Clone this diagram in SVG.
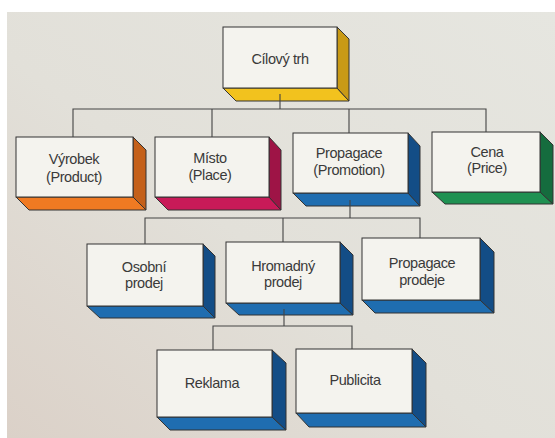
<svg xmlns="http://www.w3.org/2000/svg" width="555" height="438" viewBox="0 0 555 438">
<defs>
<linearGradient id="bg" x1="1" y1="0" x2="0" y2="1">
<stop offset="0" stop-color="#e6e6e0"/>
<stop offset="0.55" stop-color="#e2e0d9"/>
<stop offset="1" stop-color="#dbd1c8"/>
</linearGradient>
<style>
.front{fill:#f4f3ee;stroke:#333;stroke-width:1}
.side{stroke:#333;stroke-width:1;stroke-linejoin:round}
.conn{fill:none;stroke:#444;stroke-width:1.1}
text{font-family:"Liberation Sans",Arial,sans-serif;font-size:14.5px;letter-spacing:-0.4px;fill:#3a3a3a;text-anchor:middle}
.yb{fill:#f2c21e}.yr{fill:#c99a16}
.ob{fill:#f07a22}.or{fill:#c4601a}
.mb{fill:#c81a58}.mr{fill:#9e1446}
.bb{fill:#1f6db0}.br{fill:#134d86}
.gb{fill:#1f9152}.gr{fill:#156c3e}
</style>
</defs>
<rect x="0" y="0" width="555" height="438" fill="#ffffff"/>
<rect x="7" y="12" width="548" height="426" fill="url(#bg)"/>

<g id="cilovy-trh">
<polygon class="side yb" points="223,88 337,88 349,101 236,101"/>
<polygon class="side yr" points="337,27 349,39 349,101 337,88"/>
<rect class="front" x="223" y="27" width="114" height="61"/>
<text x="280" y="64">Cílový trh</text>
</g>

<g id="vyrobek">
<polygon class="side ob" points="16,197 133,197 146,210 29,210"/>
<polygon class="side or" points="133,137 146,150 146,210 133,197"/>
<rect class="front" x="16" y="137" width="117" height="60"/>
<text x="74" y="164">Výrobek</text>
<text x="74" y="182">(Product)</text>
</g>

<g id="misto">
<polygon class="side mb" points="155,197 269,197 281,210 168,210"/>
<polygon class="side mr" points="269,137 281,150 281,210 269,197"/>
<rect class="front" x="155" y="137" width="114" height="60"/>
<text x="210" y="163">Místo</text>
<text x="210" y="180">(Place)</text>
</g>

<g id="propagace">
<polygon class="side bb" points="293,193 408,193 420,206 306,206"/>
<polygon class="side br" points="408,133 420,146 420,206 408,193"/>
<rect class="front" x="293" y="133" width="115" height="60"/>
<text x="349" y="158">Propagace</text>
<text x="349" y="175">(Promotion)</text>
</g>

<g id="cena">
<polygon class="side gb" points="432,192 540,192 553,204 445,204"/>
<polygon class="side gr" points="540,132 553,145 553,204 540,192"/>
<rect class="front" x="432" y="132" width="108" height="60"/>
<text x="487" y="157">Cena</text>
<text x="487" y="173">(Price)</text>
</g>

<g id="osobni-prodej">
<polygon class="side bb" points="87,306 203,306 215,318 100,318"/>
<polygon class="side br" points="203,244 215,256 215,318 203,306"/>
<rect class="front" x="87" y="244" width="116" height="62"/>
<text x="144" y="272">Osobní</text>
<text x="144" y="288">prodej</text>
</g>

<g id="hromadny-prodej">
<polygon class="side bb" points="226,303 340,303 353,315 239,315"/>
<polygon class="side br" points="340,242 353,255 353,315 340,303"/>
<rect class="front" x="226" y="242" width="114" height="61"/>
<text x="283" y="271">Hromadný</text>
<text x="283" y="287">prodej</text>
</g>

<g id="propagace-prodeje">
<polygon class="side bb" points="362,300 480,300 494,313 375,313"/>
<polygon class="side br" points="480,238 494,252 494,313 480,300"/>
<rect class="front" x="362" y="238" width="118" height="62"/>
<text x="422" y="268">Propagace</text>
<text x="422" y="285">prodeje</text>
</g>

<g id="reklama">
<polygon class="side bb" points="157,417 272,417 286,430 170,430"/>
<polygon class="side br" points="272,350 286,363 286,430 272,417"/>
<rect class="front" x="157" y="350" width="115" height="67"/>
<text x="212" y="388">Reklama</text>
</g>

<g id="publicita">
<polygon class="side bb" points="296,413 412,413 426,427 309,427"/>
<polygon class="side br" points="412,349 426,363 426,427 412,413"/>
<rect class="front" x="296" y="349" width="116" height="64"/>
<text x="355" y="385">Publicita</text>
</g>

<g id="connectors">
<path class="conn" d="M280,94 V109 M73,137 V109 H486 V132 M212,109 V137 M349,109 V133"/>
<path class="conn" d="M350,200 V218 M145,244 V218 H420 V238 M283,218 V242"/>
<path class="conn" d="M284,309 V326 M213,350 V326 H352 V349"/>
</g>
</svg>
